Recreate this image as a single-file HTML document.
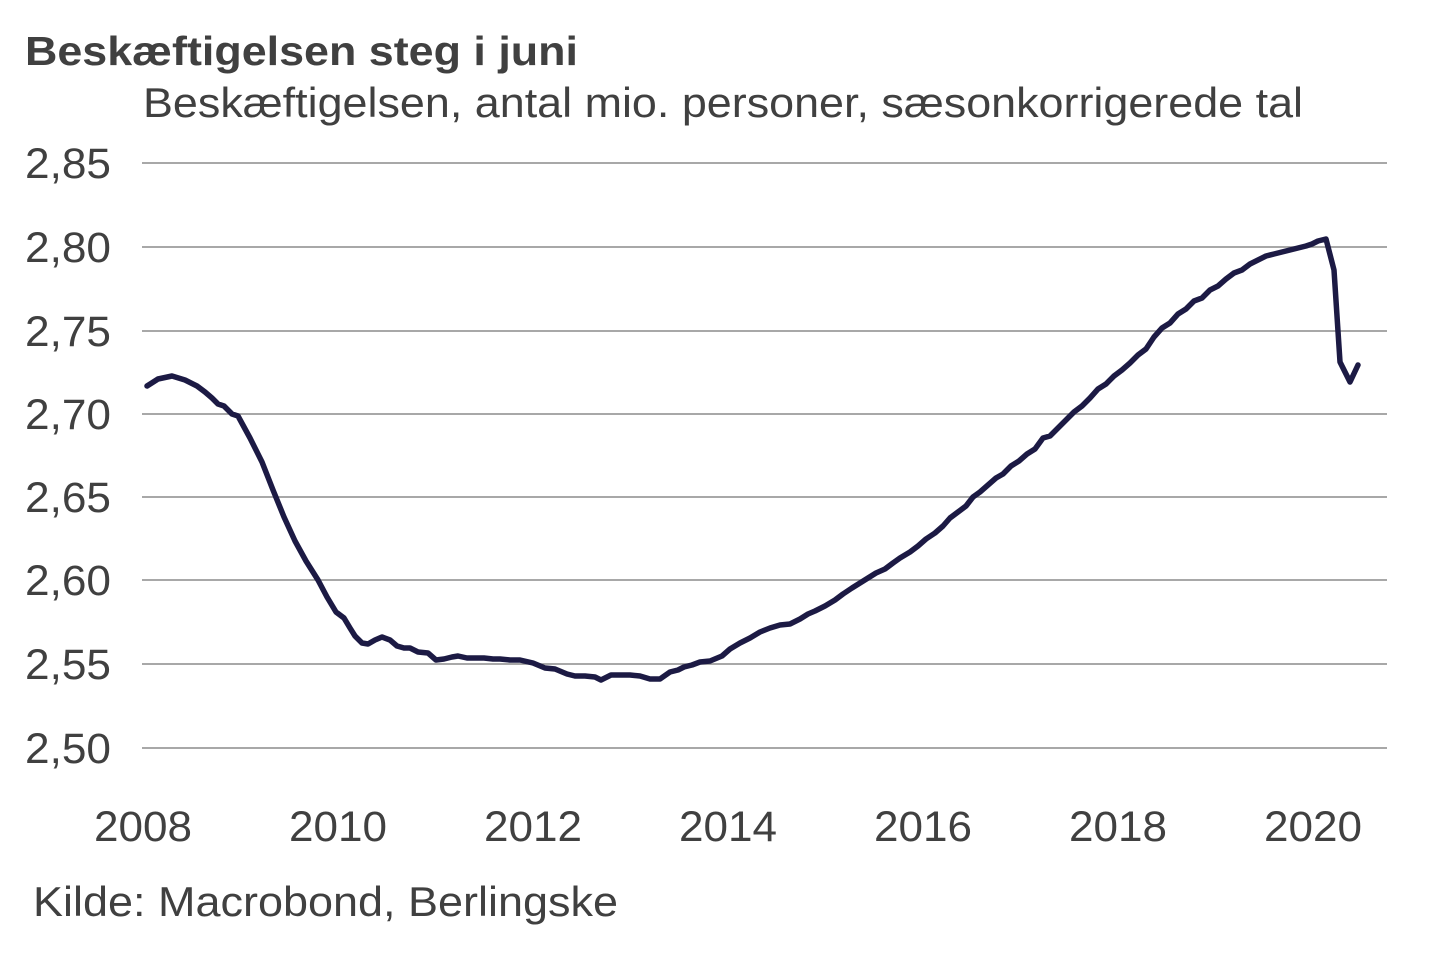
<!DOCTYPE html>
<html><head><meta charset="utf-8"><style>
html,body{margin:0;padding:0;background:#fff;}
svg{display:block;font-family:"Liberation Sans",Arial,sans-serif;}
</style></head><body>
<svg width="1440" height="960" viewBox="0 0 1440 960">
<text x="25" y="65" font-size="41" font-weight="bold" fill="#404040" textLength="553" lengthAdjust="spacingAndGlyphs">Beskæftigelsen steg i juni</text>
<text x="143" y="117" font-size="42" fill="#404040" textLength="1160" lengthAdjust="spacingAndGlyphs">Beskæftigelsen, antal mio. personer, sæsonkorrigerede tal</text>
<g stroke="#8c8c8c" stroke-width="1.5">
<line x1="142" x2="1387" y1="163" y2="163"/><line x1="142" x2="1387" y1="247" y2="247"/>
<line x1="142" x2="1387" y1="331" y2="331"/><line x1="142" x2="1387" y1="414" y2="414"/>
<line x1="142" x2="1387" y1="497" y2="497"/><line x1="142" x2="1387" y1="580" y2="580"/>
<line x1="142" x2="1387" y1="664" y2="664"/><line x1="142" x2="1387" y1="748" y2="748"/>
</g>
<g font-size="43" fill="#404040">
<text x="25" y="178" textLength="86" lengthAdjust="spacingAndGlyphs">2,85</text>
<text x="25" y="262" textLength="86" lengthAdjust="spacingAndGlyphs">2,80</text>
<text x="25" y="346" textLength="86" lengthAdjust="spacingAndGlyphs">2,75</text>
<text x="25" y="429" textLength="86" lengthAdjust="spacingAndGlyphs">2,70</text>
<text x="25" y="512" textLength="86" lengthAdjust="spacingAndGlyphs">2,65</text>
<text x="25" y="595" textLength="86" lengthAdjust="spacingAndGlyphs">2,60</text>
<text x="25" y="679" textLength="86" lengthAdjust="spacingAndGlyphs">2,55</text>
<text x="25" y="763" textLength="86" lengthAdjust="spacingAndGlyphs">2,50</text>
</g>
<g font-size="43" fill="#404040" text-anchor="middle">
<text x="143" y="841" textLength="98" lengthAdjust="spacingAndGlyphs">2008</text><text x="338" y="841" textLength="98" lengthAdjust="spacingAndGlyphs">2010</text><text x="533" y="841" textLength="98" lengthAdjust="spacingAndGlyphs">2012</text>
<text x="728" y="841" textLength="98" lengthAdjust="spacingAndGlyphs">2014</text><text x="923" y="841" textLength="98" lengthAdjust="spacingAndGlyphs">2016</text><text x="1118" y="841" textLength="98" lengthAdjust="spacingAndGlyphs">2018</text>
<text x="1313" y="841" textLength="98" lengthAdjust="spacingAndGlyphs">2020</text>
</g>
<text x="33" y="916" font-size="42" fill="#404040" textLength="585" lengthAdjust="spacingAndGlyphs">Kilde: Macrobond, Berlingske</text>
<polyline fill="none" stroke="#1c1a44" stroke-width="5.5" stroke-linejoin="round" stroke-linecap="round" points="147,386 158,379 172,376 185,380 197,386 205,392 212,398 218,404 224,406 232,414 238,416 250,438 262,462 273,490 284,517 295,541 306,561 318,580 327,597 336,612 344,618 350,628 355,636 362,643 368,644 375,640 382,637 390,640 397,646 404,648 410,648 418,652 428,653 436,660 444,659 452,657 458,656 467,658 475,658 484,658 493,659 500,659 510,660 520,660 533,663 545,668 555,669 567,674 575,676 585,676 595,677 601,680 611,675 620,675 630,675 640,676 650,679 660,679 670,672 678,670 684,667 692,665 700,662 710,661 722,656 730,649 740,643 750,638 760,632 770,628 780,625 790,624 800,619 808,614 815,611 825,606 835,600 843,594 852,588 860,583 868,578 876,573 885,569 893,563 900,558 910,552 918,546 926,539 935,533 943,526 950,518 958,512 966,506 973,497 980,492 988,485 996,478 1003,474 1011,466 1019,461 1027,454 1035,449 1043,438 1050,436 1058,428 1066,420 1074,412 1082,406 1090,398 1098,389 1106,384 1114,376 1122,370 1130,363 1138,355 1146,349 1154,337 1162,328 1170,323 1178,314 1186,309 1194,301 1202,298 1210,290 1218,286 1226,279 1234,273 1242,270 1250,264 1258,260 1266,256 1274,254 1282,252 1290,250 1298,248 1306,246 1312,244 1318,241 1326,239 1334,270 1340,362 1350,382 1358,365"/>
</svg>
</body></html>
